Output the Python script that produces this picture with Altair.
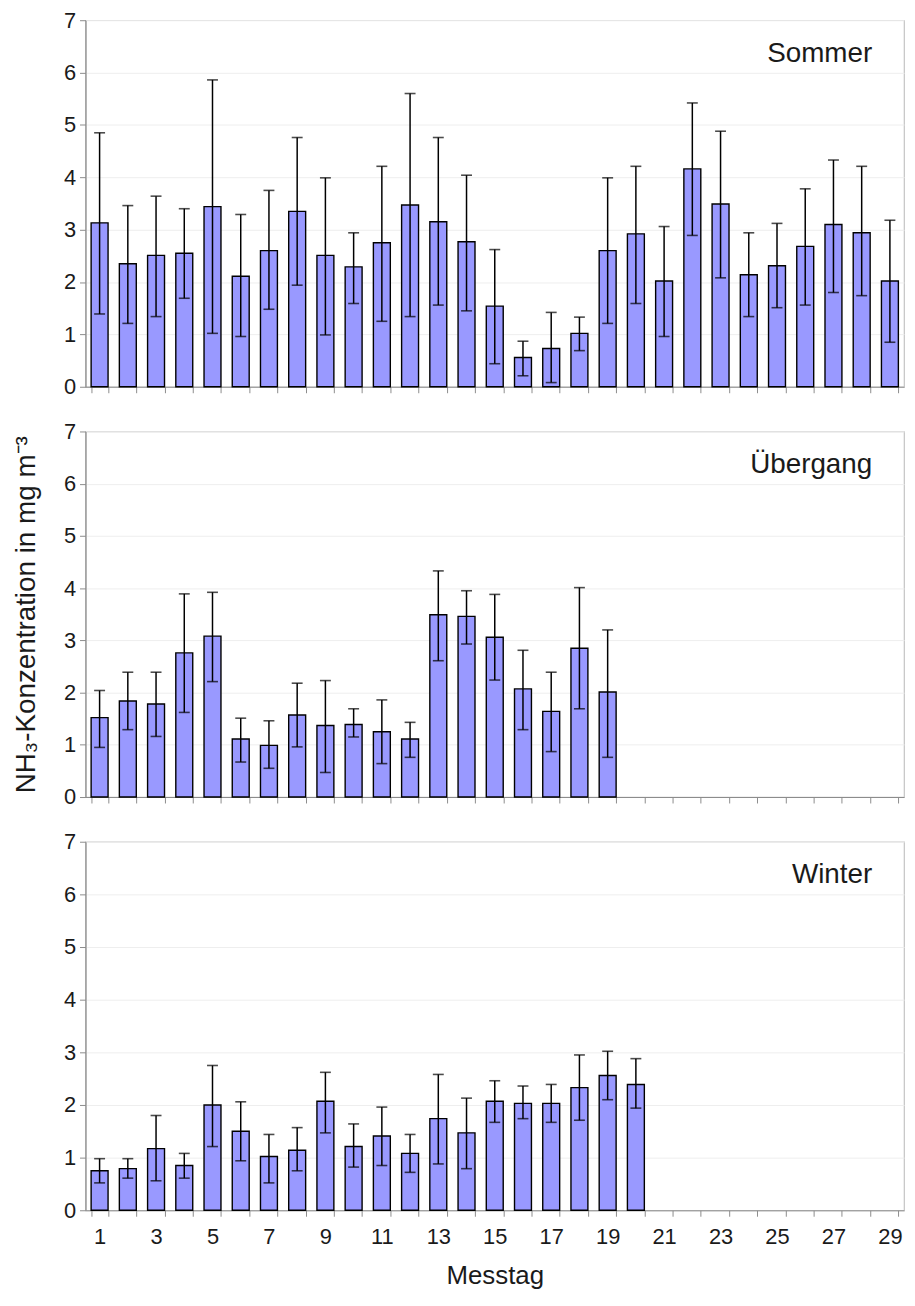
import altair as alt
import pandas as pd

# ---------------- data ----------------
sommer_mean = [3.13, 2.35, 2.51, 2.55, 3.44, 2.11, 2.60, 3.35, 2.51, 2.29,
               2.75, 3.47, 3.15, 2.77, 1.54, 0.56, 0.73, 1.02, 2.60, 2.92,
               2.02, 4.16, 3.49, 2.14, 2.31, 2.68, 3.10, 2.94, 2.02]
sommer_lo = [1.39, 1.21, 1.34, 1.69, 1.02, 0.96, 1.48, 1.94, 0.99, 1.59,
             1.25, 1.34, 1.56, 1.45, 0.44, 0.21, 0.08, 0.69, 1.21, 1.59,
             0.96, 2.89, 2.08, 1.34, 1.51, 1.56, 1.80, 1.74, 0.85]
sommer_hi = [4.85, 3.46, 3.64, 3.40, 5.86, 3.29, 3.75, 4.76, 3.99, 2.94,
             4.21, 5.60, 4.76, 4.04, 2.62, 0.87, 1.42, 1.33, 3.99, 4.21,
             3.06, 5.42, 4.88, 2.94, 3.12, 3.78, 4.33, 4.21, 3.18]

uebergang_mean = [1.52, 1.84, 1.78, 2.76, 3.08, 1.11, 0.99, 1.57, 1.37, 1.39,
                  1.25, 1.11, 3.49, 3.46, 3.06, 2.07, 1.64, 2.85, 2.01]
uebergang_lo = [0.95, 1.29, 1.16, 1.62, 2.21, 0.67, 0.55, 0.96, 0.47, 1.15,
                0.64, 0.76, 2.61, 2.93, 2.24, 1.29, 0.87, 1.69, 0.76]
uebergang_hi = [2.04, 2.39, 2.39, 3.89, 3.92, 1.51, 1.46, 2.18, 2.23, 1.69,
                1.86, 1.43, 4.33, 3.95, 3.88, 2.81, 2.39, 4.01, 3.20]

winter_mean = [0.75, 0.79, 1.17, 0.85, 2.00, 1.50, 1.02, 1.14, 2.07, 1.21,
               1.41, 1.08, 1.74, 1.47, 2.07, 2.03, 2.03, 2.33, 2.56, 2.39]
winter_lo = [0.52, 0.61, 0.56, 0.61, 1.21, 0.94, 0.52, 0.75, 1.47, 0.82,
             0.85, 0.72, 0.88, 0.79, 1.67, 1.74, 1.67, 1.71, 2.10, 1.94]
winter_hi = [0.98, 0.98, 1.80, 1.08, 2.75, 2.06, 1.44, 1.57, 2.62, 1.64,
             1.96, 1.44, 2.58, 2.13, 2.46, 2.36, 2.39, 2.95, 3.02, 2.88]

panel_names = ["Sommer", "Übergang", "Winter"]
days = list(range(1, 30))
y_ticks = [0, 1, 2, 3, 4, 5, 6, 7]
y_title = "NH₃-Konzentration in mg m⁻³"
x_title = "Messtag"

# ---------------- layout ----------------
W = 824
FONT = "Liberation Sans"
BAR_COLOR = "#9999FF"

x_scale = alt.Scale(domain=days, paddingInner=0.4, paddingOuter=0.2)
y_scale = alt.Scale(domain=[0, 7], nice=False)


def panel(name, means, los, his, show_xlabels, show_ytitle, height):
    df = pd.DataFrame({
        "Messtag": list(range(1, len(means) + 1)),
        "mean": means,
        "lo": los,
        "hi": his,
    })
    if show_xlabels:
        x_axis = alt.Axis(labelExpr="datum.value % 2 == 1 ? datum.label : ''",
                          labelOverlap=False, labelAngle=0,
                          labelFontSize=22, labelPadding=10, tickBand="extent",
                          tickSize=6, grid=False, title=x_title,
                          titleFontSize=26, titleFontWeight="normal", titlePadding=16)
    else:
        x_axis = alt.Axis(labels=False, tickBand="extent", tickSize=6, grid=False,
                          title=None)
    y_axis = alt.Axis(values=y_ticks, format="d", labelFontSize=22, tickSize=6,
                      labelPadding=4, grid=True, gridColor="#eeeeee",
                      title=y_title if show_ytitle else None,
                      titleFontSize=28, titleFontWeight="normal", titlePadding=23)
    base = alt.Chart(df)
    bars = base.mark_bar(color=BAR_COLOR, stroke="black", strokeWidth=1.4).encode(
        x=alt.X("Messtag:O", scale=x_scale, axis=x_axis),
        y=alt.Y("mean:Q", scale=y_scale, axis=y_axis),
    )
    rules = base.mark_rule(color="black", strokeWidth=1.5).encode(
        x="Messtag:O", y="lo:Q", y2="hi:Q")
    cap_hi = base.mark_tick(orient="horizontal", size=11, thickness=1.6, color="black").encode(
        x="Messtag:O", y="hi:Q")
    cap_lo = base.mark_tick(orient="horizontal", size=11, thickness=1.6, color="black").encode(
        x="Messtag:O", y="lo:Q")
    label = alt.Chart(pd.DataFrame({"t": [name]})).mark_text(
        align="right", baseline="middle", fontSize=28, font=FONT, color="#1a1a1a"
    ).encode(x=alt.value(W - 32), y=alt.value(34), text="t:N")
    return alt.layer(bars, rules, cap_hi, cap_lo, label).properties(width=W, height=height)


top = panel(panel_names[0], sommer_mean, sommer_lo, sommer_hi, False, False, 369)
mid = panel(panel_names[1], uebergang_mean, uebergang_lo, uebergang_hi, False, True, 368)
bot = panel(panel_names[2], winter_mean, winter_lo, winter_hi, True, False, 371)

chart = alt.vconcat(top, mid, bot, spacing=21).properties(
    padding={"top": -4, "left": 4, "right": 2, "bottom": 0}
).configure_view(
    stroke="#c4c4c4", strokeWidth=1.2
).configure_axis(
    domainColor="#8c8c8c", tickColor="#8c8c8c", labelColor="#1a1a1a",
    titleColor="#1a1a1a", labelFont=FONT, titleFont=FONT, domainWidth=1.2
)

chart.save("out.html", embed_options={"renderer": "svg", "actions": False})
